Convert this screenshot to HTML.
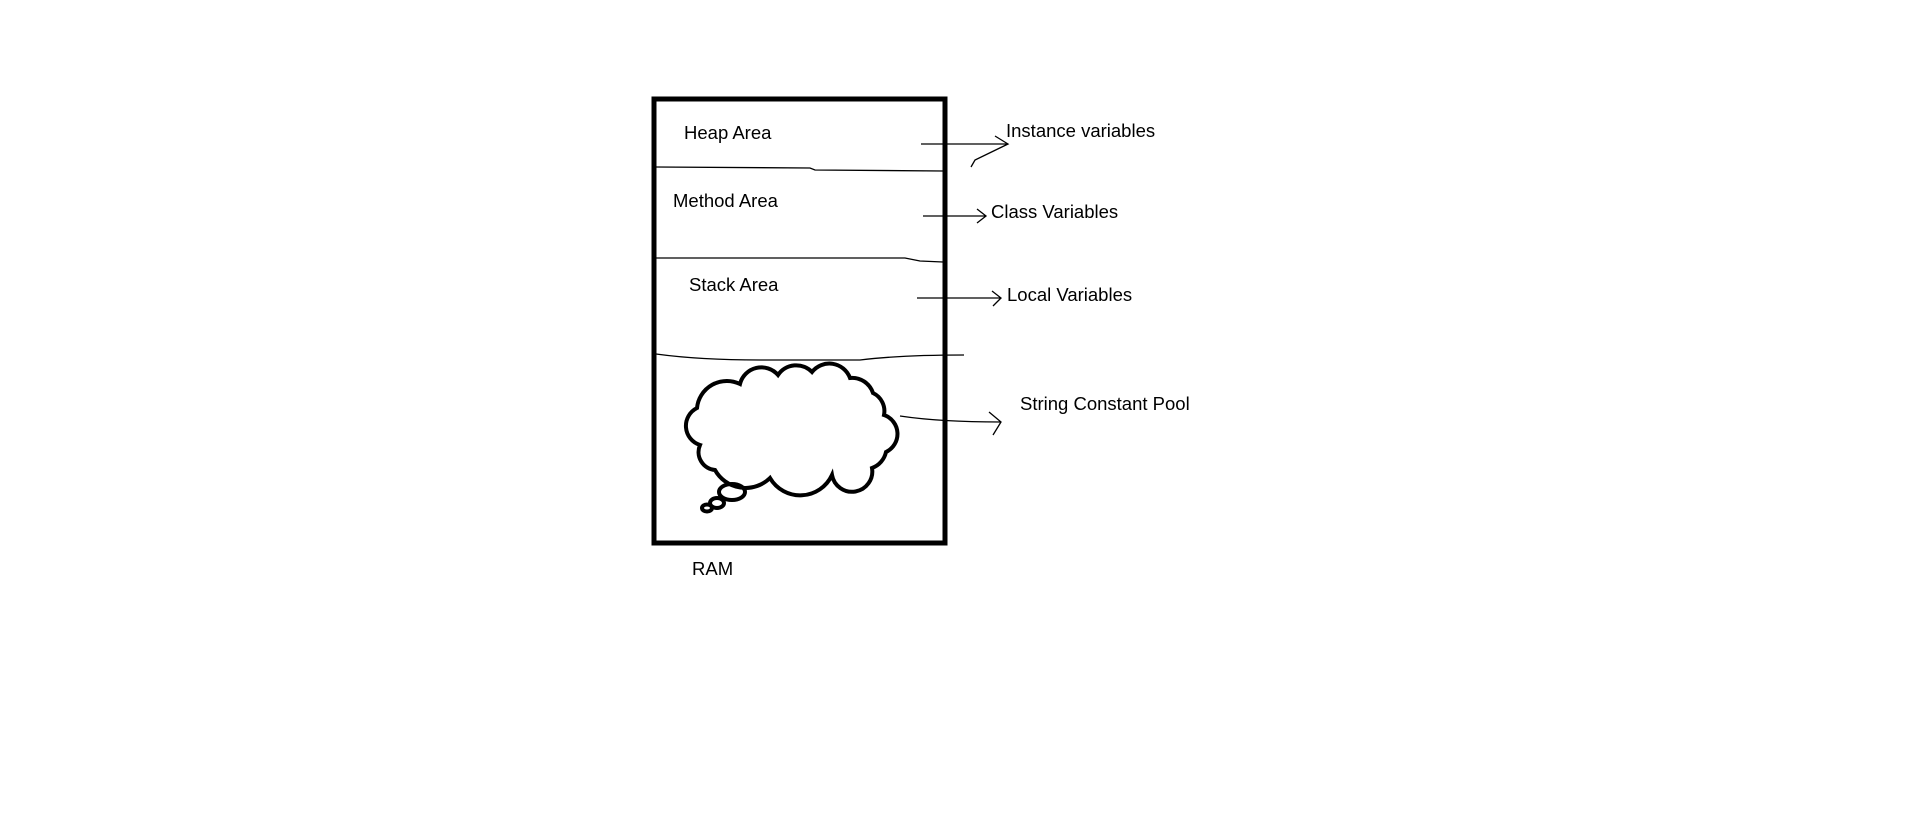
<!DOCTYPE html>
<html><head><style>
html,body{margin:0;padding:0;background:#fff;width:1913px;height:825px;overflow:hidden}
svg text{font-family:"Liberation Sans",sans-serif;font-size:18.5px;fill:#000}
</style></head><body>
<svg width="1913" height="825" viewBox="0 0 1913 825" xmlns="http://www.w3.org/2000/svg">
<rect x="654" y="99" width="291" height="444" fill="none" stroke="#000" stroke-width="5"/>
<g fill="none" stroke="#000" stroke-width="1.3">
<path d="M656 167 L810 168 L815 170 L943 171"/>
<path d="M656 258 L905 258 L920 261 L943 262"/>
<path d="M656 354 Q700 360 760 360 L860 360 Q900 355 964 355"/>
<path d="M921 144 L1008 144 M995 136 L1008 144 L975 160 L971 167"/>
<path d="M923 216 L986 216 M977 209 L986 216 L977 223"/>
<path d="M917 298 L1001 298 M992 291 L1001 298 L993 306"/>
<path d="M900 416 Q940 422 1001 422 M989 412 L1001 422 L993 435"/>
</g>
<g fill="none" stroke="#000" stroke-width="4">
<path d="M700 445 A20 20 0 0 1 697 408 A30 30 0 0 1 740 384 A22 22 0 0 1 778 375 A22 22 0 0 1 812 372 A22 22 0 0 1 850 378 A22 22 0 0 1 873 393 A20 20 0 0 1 884 415 A20 20 0 0 1 886 452 A22 22 0 0 1 872 468 A20 20 0 0 1 832 475 A35 35 0 0 1 770 478 A35 35 0 0 1 715 470 A18 18 0 0 1 700 445 Z"/>
<ellipse cx="732" cy="492" rx="13" ry="8"/>
<ellipse cx="717" cy="503" rx="7" ry="5"/>
<ellipse cx="707" cy="508" rx="5" ry="3.5"/>
</g>
<text x="684" y="139">Heap Area</text>
<text x="673" y="207">Method Area</text>
<text x="689" y="291">Stack Area</text>
<text x="692" y="575">RAM</text>
<text x="1006" y="137">Instance variables</text>
<text x="991" y="218">Class Variables</text>
<text x="1007" y="301">Local Variables</text>
<text x="1020" y="410">String Constant Pool</text>
</svg>
</body></html>
